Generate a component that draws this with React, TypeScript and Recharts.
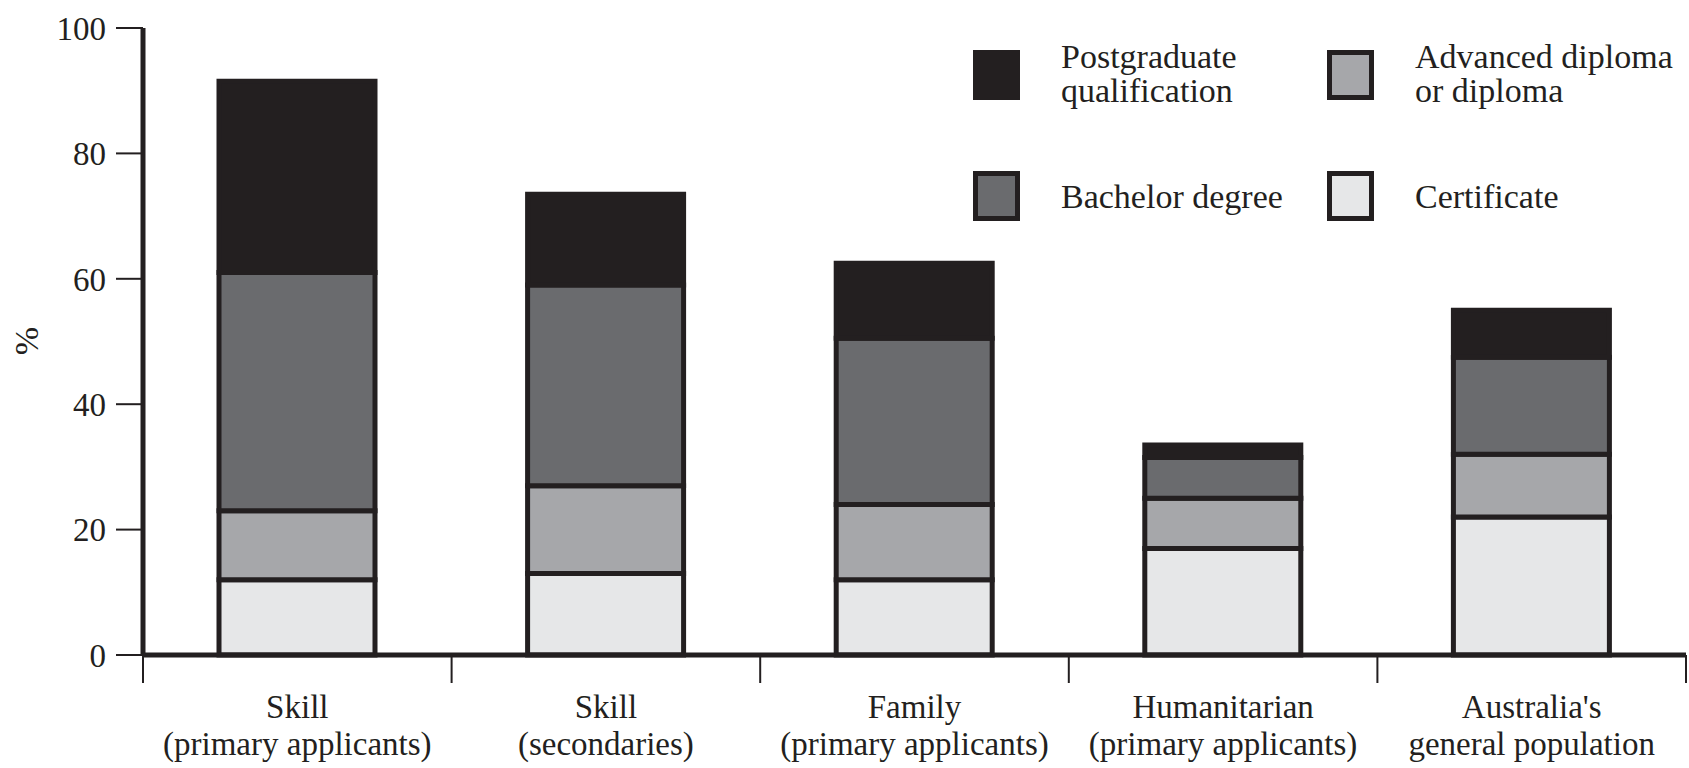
// Stacked bars: highest qualification by visa stream, % of each group
import { BarChart, Bar, XAxis, YAxis } from "recharts";

const categoryTop = ["Skill", "Skill", "Family", "Humanitarian", "Australia's"];
const categoryBottom = [
  "(primary applicants)",
  "(secondaries)",
  "(primary applicants)",
  "(primary applicants)",
  "general population",
];

// stacked from the bottom up
const certificate = [12, 13, 12, 17, 22];
const advancedDiploma = [11, 14, 12, 8, 10];
const bachelor = [38, 32, 26.5, 6.5, 15.5];
const postgraduate = [30.5, 14.5, 12, 2, 7.5];

const yTicks = [0, 20, 40, 60, 80, 100];

const INK = "#231f20";
const FONT = "'Liberation Serif', 'Times New Roman', serif";

const series = [
  { key: "certificate", name: "Certificate", color: "#e6e7e8", values: certificate },
  { key: "advanced", name: "Advanced diploma\nor diploma", color: "#a6a7aa", values: advancedDiploma },
  { key: "bachelor", name: "Bachelor degree", color: "#6a6b6e", values: bachelor },
  { key: "postgrad", name: "Postgraduate\nqualification", color: INK, values: postgraduate },
];

const data = categoryTop.map((c, i) => {
  const row: Record<string, string | number> = { name: c + " " + categoryBottom[i] };
  series.forEach((s) => (row[s.key] = s.values[i]));
  return row;
});

// legend slots: [series key, left, top]
const legendSlots: [string, number, number][] = [
  ["postgrad", 973, 50],
  ["advanced", 1327, 50],
  ["bachelor", 973, 171],
  ["certificate", 1327, 171],
];

function CategoryTick(props: any) {
  const { x, y, payload, index } = props;
  const half = payload && payload.offset ? payload.offset : 154.3;
  const last = index === categoryTop.length - 1;
  return (
    <g>
      <line x1={x - half} x2={x - half} y1={y} y2={y + 28} stroke={INK} strokeWidth={2} />
      {last && <line x1={x + half} x2={x + half} y1={y} y2={y + 28} stroke={INK} strokeWidth={2} />}
      <text x={x} y={y + 63} textAnchor="middle" fill={INK} fontSize={33} fontFamily={FONT}>
        {categoryTop[index]}
      </text>
      <text x={x} y={y + 100} textAnchor="middle" fill={INK} fontSize={33} fontFamily={FONT}>
        {categoryBottom[index]}
      </text>
    </g>
  );
}

export default function App() {
  return (
    <div style={{ position: "absolute", left: 0, top: 0, width: 1689, height: 768, background: "#fff" }}>
      <BarChart
        width={1689}
        height={768}
        data={data}
        margin={{ top: 28, right: 3, bottom: 3, left: 0 }}
        barSize={156}
      >
        <XAxis
          dataKey="name"
          axisLine={{ stroke: INK, strokeWidth: 5 }}
          tickLine={false}
          tickSize={0}
          tickMargin={0}
          height={110}
          interval={0}
          tick={<CategoryTick />}
        />
        <YAxis
          domain={[0, 100]}
          ticks={yTicks}
          width={143}
          axisLine={{ stroke: INK, strokeWidth: 5 }}
          tickLine={{ stroke: INK, strokeWidth: 2 }}
          tickSize={27}
          tickMargin={10}
          tick={{ fill: INK, fontSize: 33, fontFamily: FONT }}
          label={{
            content: () => (
              <text x={38} y={341} transform="rotate(-90 38 341)" textAnchor="middle" fill={INK} fontSize={34} fontFamily={FONT}>
                %
              </text>
            ),
          }}
        />
        {series.map((s) => (
          <Bar
            key={s.key}
            dataKey={s.key}
            stackId="a"
            fill={s.color}
            stroke={INK}
            strokeWidth={5}
            isAnimationActive={false}
          />
        ))}
      </BarChart>
      {legendSlots.map(([key, left, top]) => {
        const s = series.find((q) => q.key === key)!;
        const lines = s.name.split("\n");
        return (
          <div key={key}>
            <div
              style={{
                position: "absolute",
                left,
                top,
                width: 47,
                height: 50,
                boxSizing: "border-box",
                border: `5px solid ${INK}`,
                background: s.color,
              }}
            />
            <div
              style={{
                position: "absolute",
                left: left + 88,
                top: lines.length > 1 ? top - 10 : top + 9,
                fontFamily: FONT,
                fontSize: 34,
                lineHeight: "34px",
                color: INK,
                whiteSpace: "pre",
              }}
            >
              {s.name}
            </div>
          </div>
        );
      })}
    </div>
  );
}
